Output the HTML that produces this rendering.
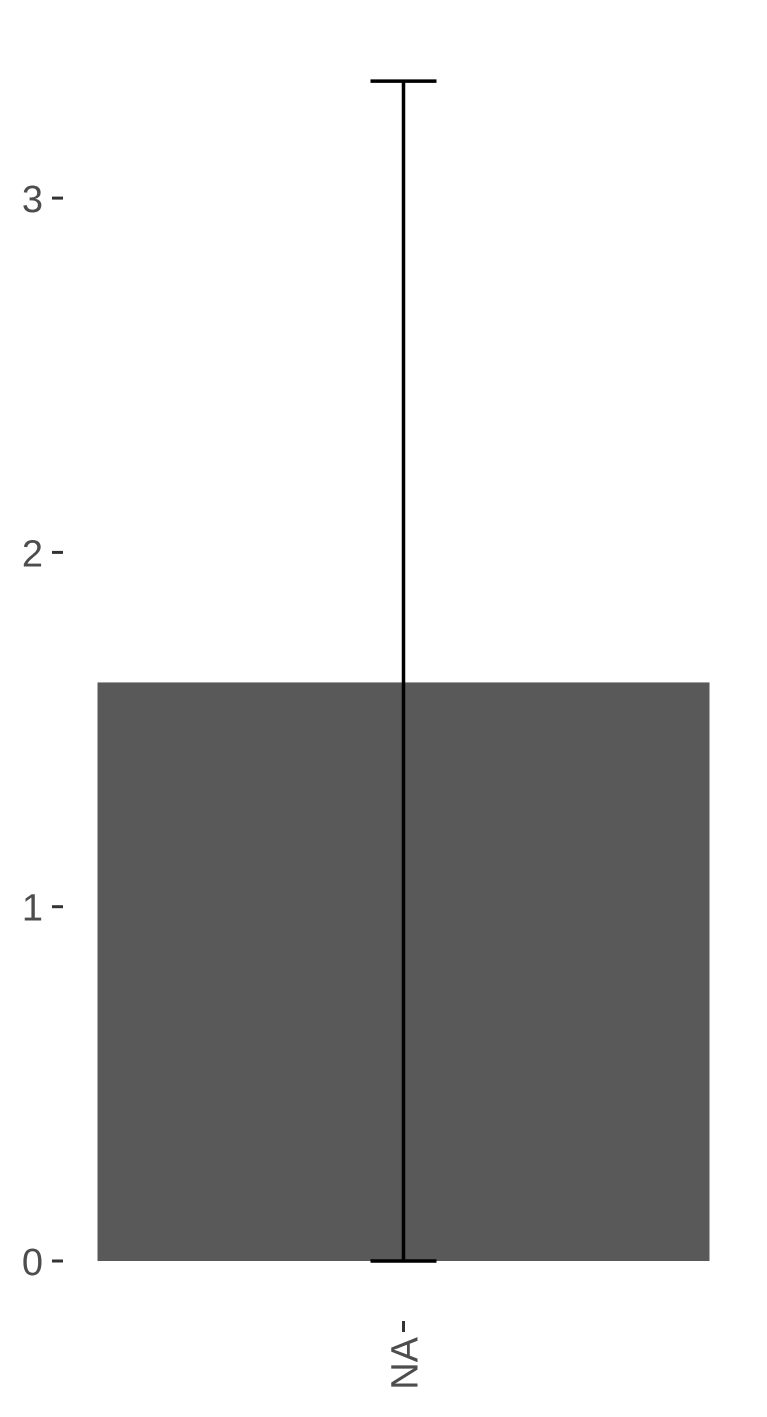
<!DOCTYPE html>
<html><head><meta charset="utf-8"><style>
html,body{margin:0;padding:0;background:#fff;}
svg{display:block;}
text{font-family:"Liberation Sans",Arial,sans-serif;fill:#4d4d4d;font-size:38px;}
</style></head><body>
<svg id="chart" width="767" height="1417" viewBox="0 0 767 1417" xmlns="http://www.w3.org/2000/svg"></svg>
<script>
const categories = ["NA"];
const values = [1.633];
const errLow = [0];
const errHigh = [3.33];
const yTicks = [0, 1, 2, 3];
const yTickLabels = ["0", "1", "2", "3"];

const NS = "http://www.w3.org/2000/svg";
const svg = document.getElementById("chart");
const y0 = 1261, pxPerUnit = 354.3;
const yScale = v => y0 - v * pxPerUnit;
const plotLeft = 67, plotRight = 741;
const band = (plotRight - plotLeft) / categories.length;
const xCenter = i => plotLeft + band * (i + 0.5) - 0.5;
const barW = 612;

function mk(tag, attrs) {
  const e = document.createElementNS(NS, tag);
  for (const k in attrs) e.setAttribute(k, attrs[k]);
  svg.appendChild(e);
  return e;
}

yTicks.forEach((t, i) => {
  const y = yScale(t);
  const tk = mk("line", {x1: 52, x2: 63, y1: y, y2: y, stroke: "#333", "stroke-width": 3});
  
  
  const lb = mk("text", {x: 43, y: y + 14, "text-anchor": "end"});
  lb.textContent = yTickLabels[i];
  
  
});

categories.forEach((c, i) => {
  const cx = xCenter(i);
  const bar = mk("rect", {x: cx - barW / 2, y: yScale(values[i]), width: barW, height: yScale(0) - yScale(values[i]), fill: "#595959"});
  
  
  const v = mk("line", {x1: cx, x2: cx, y1: yScale(errHigh[i]), y2: yScale(errLow[i]), stroke: "#000", "stroke-width": 3.5});
  
  
  [errHigh[i], errLow[i]].forEach(e => {
    const cap = mk("line", {x1: cx - 33, x2: cx + 33, y1: yScale(e), y2: yScale(e), stroke: "#000", "stroke-width": 3.5});
    
    
  });
  const xt = mk("line", {x1: cx, x2: cx, y1: 1321, y2: 1332, stroke: "#333", "stroke-width": 3});
  
  
  const xl = mk("text", {x: 0, y: 0, "text-anchor": "end", transform: `translate(${cx + 14},1337) rotate(-90)`});
  xl.textContent = c;
  
  
});
</script>
</body></html>
